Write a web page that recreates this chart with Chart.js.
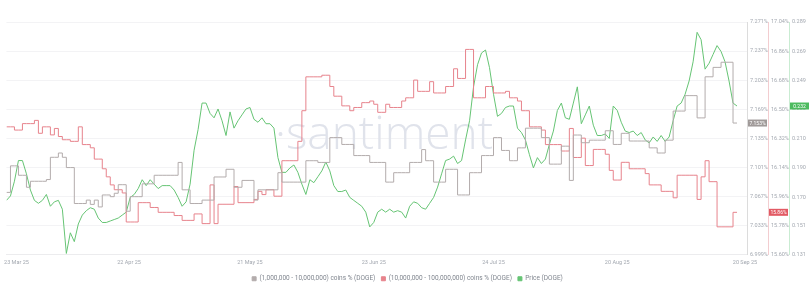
<!DOCTYPE html>
<html>
<head>
<meta charset="utf-8">
<script src="https://cdn.jsdelivr.net/npm/chart.js@4.4.1/dist/chart.umd.min.js"></script>
<style>
  body { margin: 0; background: #fff; }
  #wrap { width: 810px; height: 308px; position: relative; }
</style>
</head>
<body>
<div id="wrap"><canvas id="chart"></canvas></div>
<script>
// x axis tick labels and the day index where each one sits
const xTickLabels = ['23 Mar 25', '22 Apr 25', '21 May 25', '23 Jun 25', '24 Jul 25', '20 Aug 25', '20 Sep 25'];
const xTickDays = [2.5, 30.7, 61, 92, 122, 153, 185];

// (1,000,000 - 10,000,000) coins % , daily
const holders1to10m = [
  7.072, 7.103, 7.103, 7.092, 7.092, 7.078, 7.085, 7.085, 7.085, 7.085,
  7.087, 7.113, 7.113, 7.118, 7.113, 7.101, 7.101, 7.059, 7.059, 7.059,
  7.063, 7.058, 7.063, 7.055, 7.069, 7.069, 7.067, 7.071, 7.081, 7.081,
  7.050, 7.067, 7.067, 7.067, 7.082, 7.082, 7.082, 7.092, 7.092, 7.092,
  7.092, 7.092, 7.092, 7.107, 7.075, 7.075, 7.059, 7.059, 7.059, 7.063,
  7.063, 7.063, 7.090, 7.090, 7.090, 7.099, 7.099, 7.078, 7.078, 7.086,
  7.086, 7.086, 7.063, 7.075, 7.075, 7.075, 7.075, 7.075, 7.095, 7.084,
  7.084, 7.084, 7.084, 7.084, 7.084, 7.109, 7.109, 7.109, 7.107, 7.107,
  7.107, 7.136, 7.136, 7.136, 7.128, 7.128, 7.128, 7.115, 7.115, 7.115,
  7.115, 7.107, 7.107, 7.107, 7.107, 7.084, 7.084, 7.095, 7.095, 7.095,
  7.095, 7.107, 7.107, 7.107, 7.122, 7.109, 7.109, 7.084, 7.084, 7.084,
  7.099, 7.099, 7.099, 7.069, 7.069, 7.069, 7.095, 7.095, 7.095, 7.115,
  7.115, 7.115, 7.136, 7.136, 7.121, 7.121, 7.109, 7.109, 7.124, 7.124,
  7.147, 7.147, 7.147, 7.147, 7.136, 7.136, 7.105, 7.105, 7.105, 7.126,
  7.126, 7.086, 7.139, 7.139, 7.130, 7.130, 7.133, 7.133, 7.133, 7.133,
  7.144, 7.144, 7.128, 7.128, 7.141, 7.141, 7.132, 7.132, 7.132, 7.132,
  7.132, 7.124, 7.124, 7.118, 7.118, 7.133, 7.133, 7.167, 7.167, 7.167,
  7.185, 7.185, 7.185, 7.159, 7.159, 7.207, 7.207, 7.218, 7.218, 7.224,
  7.224, 7.224, 7.153, 7.153
];

// (10,000,000 - 100,000,000) coins % , daily
const holders10to100m = [
  16.39, 16.39, 16.37, 16.37, 16.41, 16.41, 16.41, 16.43, 16.35, 16.39,
  16.39, 16.34, 16.38, 16.33, 16.31, 16.31, 16.30, 16.30, 16.39, 16.28,
  16.28, 16.26, 16.19, 16.19, 16.13, 16.08, 16.03, 16.00, 16.00, 15.98,
  15.80, 15.80, 15.80, 15.92, 15.92, 15.92, 15.89, 15.89, 15.86, 15.86,
  15.86, 15.86, 15.84, 15.84, 15.81, 15.81, 15.81, 15.85, 15.85, 15.79,
  15.79, 16.03, 15.79, 15.91, 15.91, 15.91, 15.91, 16.02, 15.92, 15.92,
  15.92, 15.92, 15.94, 15.99, 15.97, 16.00, 16.00, 15.96, 15.96, 16.18,
  16.18, 16.18, 16.18, 16.30, 16.49, 16.70, 16.70, 16.70, 16.70, 16.71,
  16.71, 16.64, 16.58, 16.58, 16.52, 16.52, 16.49, 16.51, 16.51, 16.54,
  16.54, 16.55, 16.53, 16.48, 16.48, 16.53, 16.51, 16.51, 16.51, 16.55,
  16.57, 16.57, 16.68, 16.61, 16.61, 16.61, 16.67, 16.60, 16.60, 16.60,
  16.64, 16.64, 16.75, 16.69, 16.69, 16.87, 16.87, 16.57, 16.57, 16.57,
  16.64, 16.64, 16.60, 16.60, 16.60, 16.61, 16.57, 16.57, 16.55, 16.49,
  16.49, 16.39, 16.39, 16.39, 16.37, 16.28, 16.28, 16.28, 16.28, 16.24,
  16.24, 16.38, 16.20, 16.20, 16.32, 16.15, 16.15, 16.25, 16.25, 16.25,
  16.22, 16.12, 16.06, 16.06, 16.17, 16.17, 16.13, 16.13, 16.13, 16.13,
  16.10, 16.03, 16.03, 16.03, 15.99, 15.99, 15.99, 15.95, 16.09, 16.09,
  16.09, 16.09, 16.09, 15.94, 16.08, 16.18, 16.05, 16.05, 15.77, 15.77,
  15.77, 15.77, 15.86, 15.86
];

// DOGE price, daily
const dogePrice = [
  0.168, 0.171, 0.181, 0.195, 0.195, 0.186, 0.175, 0.168, 0.166, 0.168,
  0.172, 0.164, 0.167, 0.168, 0.162, 0.132, 0.146, 0.140, 0.152, 0.158,
  0.161, 0.163, 0.162, 0.156, 0.153, 0.153, 0.154, 0.155, 0.156, 0.158,
  0.160, 0.170, 0.172, 0.176, 0.182, 0.178, 0.182, 0.179, 0.176, 0.178,
  0.178, 0.178, 0.175, 0.170, 0.164, 0.167, 0.179, 0.202, 0.216, 0.234,
  0.234, 0.227, 0.224, 0.230, 0.222, 0.212, 0.228, 0.217, 0.222, 0.226,
  0.230, 0.231, 0.223, 0.221, 0.224, 0.220, 0.220, 0.217, 0.197, 0.187,
  0.187, 0.190, 0.192, 0.187, 0.179, 0.172, 0.182, 0.180, 0.184, 0.188,
  0.194, 0.188, 0.178, 0.174, 0.174, 0.175, 0.170, 0.168, 0.166, 0.164,
  0.160, 0.150, 0.153, 0.160, 0.162, 0.160, 0.162, 0.160, 0.161, 0.160,
  0.156, 0.164, 0.167, 0.166, 0.163, 0.162, 0.166, 0.170, 0.177, 0.186,
  0.195, 0.196, 0.198, 0.193, 0.195, 0.209, 0.222, 0.245, 0.260, 0.268,
  0.270, 0.258, 0.240, 0.225, 0.227, 0.231, 0.232, 0.232, 0.217, 0.214,
  0.209, 0.199, 0.190, 0.197, 0.193, 0.196, 0.206, 0.215, 0.229, 0.234,
  0.224, 0.223, 0.234, 0.245, 0.220, 0.226, 0.232, 0.219, 0.212, 0.212,
  0.213, 0.210, 0.232, 0.229, 0.221, 0.215, 0.214, 0.215, 0.212, 0.214,
  0.209, 0.207, 0.211, 0.208, 0.212, 0.208, 0.211, 0.222, 0.232, 0.234,
  0.240, 0.249, 0.262, 0.282, 0.277, 0.257, 0.261, 0.267, 0.273, 0.269,
  0.262, 0.249, 0.234, 0.232
];

// right axes tick values
const grayTicks = [6.999, 7.033, 7.067, 7.101, 7.135, 7.169, 7.203, 7.237, 7.271];
const redTicks = [15.596, 15.776, 15.957, 16.137, 16.318, 16.498, 16.679, 16.859, 17.04];
const priceTicks = [0.131, 0.151, 0.170, 0.190, 0.210, 0.230, 0.249, 0.269, 0.289];

//Colors
const colors = {
  gray: '#b3acac',
  red: '#e7838c',
  green: '#66c474',
  grayAxis: '#dcdcdc',
  redAxis: '#f3cdd0',
  greenAxis: '#c9ecd2',
  label: '#a3a8b0',
  grid: '#f3f3f5'
};

// turn an array of values into {x: day, y: value}
function toPoints(values) {
  return values.map((v, i) => ({ x: i, y: v }));
}

function fixedTicks(list) {
  return (scale) => { scale.ticks = list.map(v => ({ value: v })); };
}

function rightAxis(min, max, list, borderColor, fmt, showGrid) {
  return {
    type: 'linear',
    position: 'right',
    min: min,
    max: max,
    afterBuildTicks: fixedTicks(list),
    afterFit: (scale) => { scale.width = 21; },
    border: { display: true, color: borderColor, width: 1 },
    grid: { display: showGrid, drawOnChartArea: showGrid, drawTicks: false, color: colors.grid },
    ticks: {
      padding: 3,
      color: colors.label,
      font: { size: 5.5, family: 'Roboto' },
      callback: fmt
    }
  };
}

// faded santiment watermark behind the lines
const watermark = {
  id: 'watermark',
  beforeDatasetsDraw(chart) {
    const ctx = chart.ctx;
    ctx.save();
    ctx.font = '300 46px "Open Sans"';
    ctx.fillStyle = '#e0e3eb';
    ctx.textAlign = 'center';
    ctx.textBaseline = 'alphabetic';
    ctx.fillText('\u00b7santiment', 384, 149);
    ctx.restore();
  }
};

// last value badges sitting on each right axis
const lastBadges = {
  id: 'lastBadges',
  afterDraw(chart) {
    const ctx = chart.ctx;
    chart.data.datasets.forEach((ds) => {
      const scale = chart.scales[ds.yAxisID];
      const last = ds.data[ds.data.length - 1].y;
      const y = scale.getPixelForValue(last);
      ctx.save();
      ctx.fillStyle = ds.badgeColor;
      ctx.fillRect(scale.left + 1, y - 3.5, 19, 7);
      ctx.fillStyle = '#fff';
      ctx.font = '5px Roboto';
      ctx.textAlign = 'center';
      ctx.textBaseline = 'middle';
      ctx.fillText(scale.options.ticks.callback(last), scale.left + 10.5, y + 0.3);
      ctx.restore();
    });
  }
};

const chartobj = new Chart(document.querySelector('#chart').getContext('2d'), {
  type: 'line',
  data: {
    datasets: [
      {
        label: '(1,000,000 - 10,000,000) coins % (DOGE)',
        data: toPoints(holders1to10m),
        yAxisID: 'yGray',
        borderColor: colors.gray,
        backgroundColor: colors.gray,
        badgeColor: '#a09a99',
        borderWidth: 1,
        stepped: true,
        pointRadius: 0
      },
      {
        label: '(10,000,000 - 100,000,000) coins % (DOGE)',
        data: toPoints(holders10to100m),
        yAxisID: 'yRed',
        borderColor: colors.red,
        backgroundColor: colors.red,
        badgeColor: '#e25a64',
        borderWidth: 1,
        stepped: true,
        pointRadius: 0
      },
      {
        label: 'Price (DOGE)',
        data: toPoints(dogePrice),
        yAxisID: 'yPrice',
        borderColor: colors.green,
        backgroundColor: colors.green,
        badgeColor: '#4dbb5f',
        borderWidth: 1,
        tension: 0,
        pointRadius: 0
      }
    ]
  },
  options: {
    responsive: true,
    maintainAspectRatio: false,
    animation: false,
    layout: { padding: { top: 22, left: 5, right: 0, bottom: 16 } },
    plugins: {
      tooltip: { enabled: false },
      legend: {
        position: 'bottom',
        labels: {
          boxWidth: 4,
          boxHeight: 4,
          padding: 6,
          color: '#80868f',
          font: { size: 6.5, family: 'Roboto' }
        }
      }
    },
    scales: {
      x: {
        type: 'linear',
        min: 0,
        max: 185.5,
        afterBuildTicks: fixedTicks(xTickDays),
        border: { display: true, color: '#ececee' },
        grid: { display: false, drawTicks: false },
        ticks: {
          autoSkip: false,
          maxRotation: 0,
          padding: 4,
          color: colors.label,
          font: { size: 5.5, family: 'Roboto' },
          callback: (v) => xTickLabels[xTickDays.indexOf(v)]
        }
      },
      yGray: rightAxis(6.999, 7.271, grayTicks, colors.grayAxis, (v) => v.toFixed(3) + '%', true),
      yRed: rightAxis(15.596, 17.04, redTicks, colors.redAxis, (v) => v.toFixed(2) + '%', false),
      yPrice: rightAxis(0.131, 0.289, priceTicks, colors.greenAxis, (v) => v.toFixed(3), false)
    }
  },
  plugins: [watermark, lastBadges]
});
</script>
</body>
</html>
